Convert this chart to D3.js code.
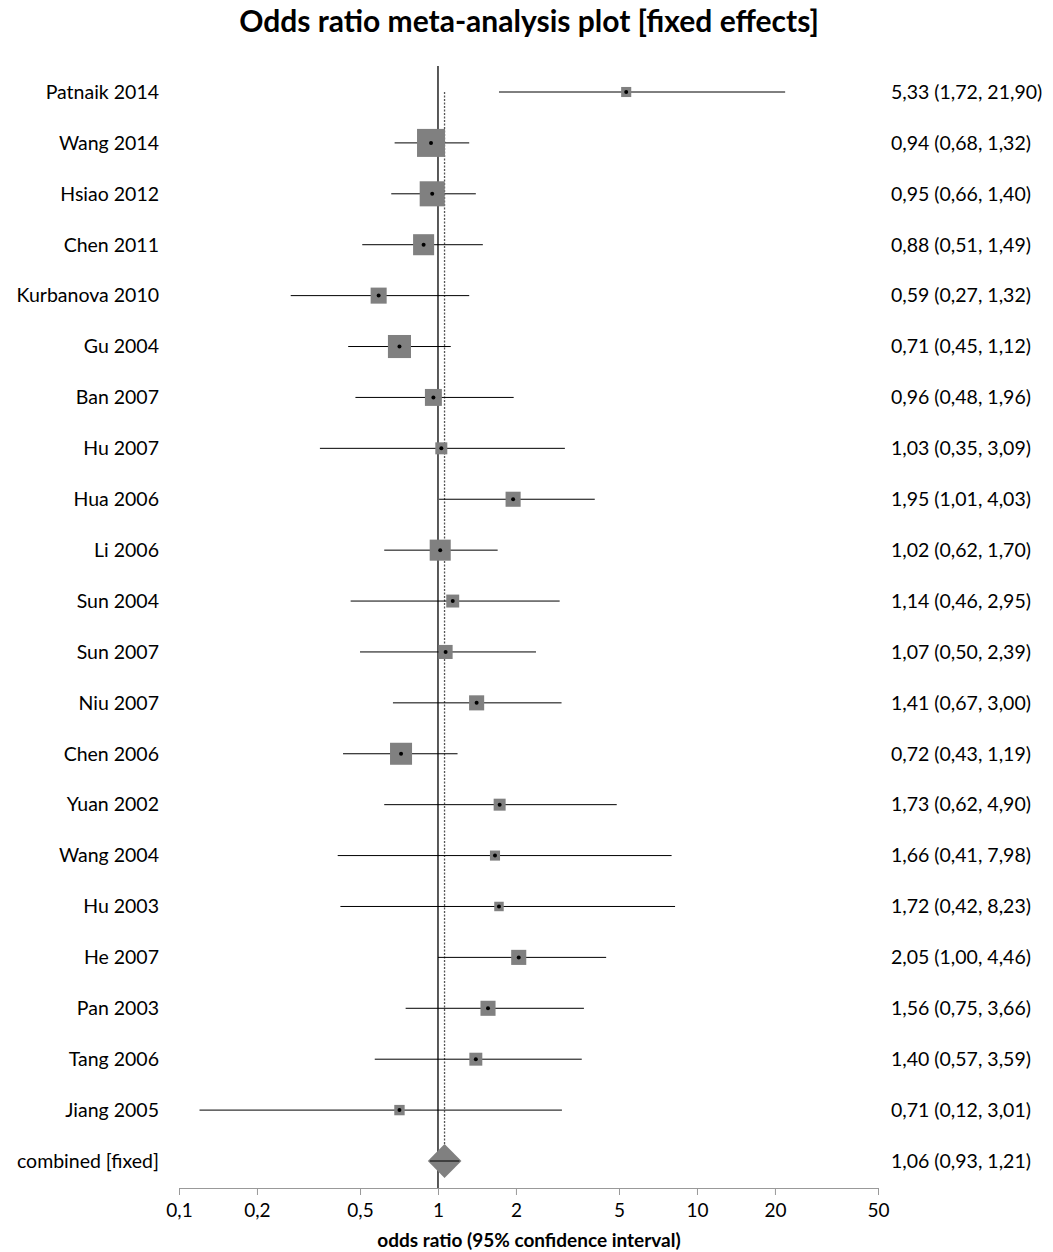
<!DOCTYPE html>
<html>
<head>
<meta charset="utf-8">
<script src="https://cdn.jsdelivr.net/npm/d3@7"></script>
<style>
  html, body { margin: 0; padding: 0; background: #fff; }
  svg { display: block; font-family: Lato, "Open Sans", sans-serif; }
</style>
</head>
<body>
<svg id="chart" width="1053" height="1252"></svg>
<script>
// Study data
const studies = ["Patnaik 2014", "Wang 2014", "Hsiao 2012", "Chen 2011", "Kurbanova 2010", "Gu 2004",
  "Ban 2007", "Hu 2007", "Hua 2006", "Li 2006", "Sun 2004", "Sun 2007", "Niu 2007", "Chen 2006",
  "Yuan 2002", "Wang 2004", "Hu 2003", "He 2007", "Pan 2003", "Tang 2006", "Jiang 2005"];
const oddsRatio = [5.33, 0.94, 0.95, 0.88, 0.59, 0.71, 0.96, 1.03, 1.95, 1.02, 1.14, 1.07, 1.41, 0.72,
  1.73, 1.66, 1.72, 2.05, 1.56, 1.40, 0.71];
const lower = [1.72, 0.68, 0.66, 0.51, 0.27, 0.45, 0.48, 0.35, 1.01, 0.62, 0.46, 0.50, 0.67, 0.43,
  0.62, 0.41, 0.42, 1.00, 0.75, 0.57, 0.12];
const upper = [21.90, 1.32, 1.40, 1.49, 1.32, 1.12, 1.96, 3.09, 4.03, 1.70, 2.95, 2.39, 3.00, 1.19,
  4.90, 7.98, 8.23, 4.46, 3.66, 3.59, 3.01];
// Relative study weights (%)
const weights = [1.7, 13.1, 10.5, 7.4, 4.3, 8.9, 4.8, 2.4, 3.8, 7.4, 2.8, 3.3, 3.8, 8.1,
  2.4, 1.7, 1.5, 3.8, 3.8, 2.8, 1.8];

// Pooled estimate
const pooledLabel = "combined [fixed]";
const pooled = [1.06, 0.93, 1.21];

const tickValues = [0.1, 0.2, 0.5, 1, 2, 5, 10, 20, 50];

const svg = d3.select("#chart");
const fmt = v => d3.format(".2f")(v).replace(".", ",");
const fmtTick = v => String(v).replace(".", ",");

const x = d3.scaleLog().domain([0.1, 50]).range([179, 878]);
const rows = studies.concat([pooledLabel]);
const y = d3.scalePoint().domain(rows).range([92, 1161]);
const side = d3.scaleSqrt().domain([0, 13.1]).range([0, 28]);

// Title
svg.append("text")
  .attr("x", 529).attr("y", 32)
  .attr("text-anchor", "middle")
  .attr("font-size", 30).attr("font-weight", 700)
  .text("Odds ratio meta-analysis plot [fixed effects]");

// Axis
const axisY = 1188;
const axis = svg.append("g").attr("transform", `translate(0,${axisY})`)
  .call(d3.axisBottom(x).tickValues(tickValues).tickFormat(fmtTick).tickSize(7).tickPadding(9));
axis.select(".domain").attr("stroke", "#999").attr("d", `M179,0.5H878`);
axis.selectAll(".tick line").attr("stroke", "#999");
axis.selectAll(".tick text").attr("font-size", 19).attr("fill", "#000")
  .attr("font-family", "Lato, 'Open Sans', sans-serif");

svg.append("text")
  .attr("x", 529).attr("y", 1247)
  .attr("text-anchor", "middle")
  .attr("font-size", 19).attr("font-weight", 700)
  .text("odds ratio (95% confidence interval)");

// Line of no effect
svg.append("line")
  .attr("x1", x(1)).attr("x2", x(1))
  .attr("y1", 66).attr("y2", axisY)
  .attr("stroke", "#000").attr("stroke-width", 1.3);

// Pooled estimate reference line
svg.append("line")
  .attr("x1", x(pooled[0])).attr("x2", x(pooled[0]))
  .attr("y1", y(studies[0])).attr("y2", y(pooledLabel) - 17)
  .attr("stroke", "#555").attr("stroke-width", 1.3)
  .attr("stroke-dasharray", "2,1.5");

// Study rows
const g = svg.append("g");
studies.forEach((name, i) => {
  const cy = y(name);
  g.append("line")
    .attr("x1", x(lower[i])).attr("x2", x(upper[i]))
    .attr("y1", cy).attr("y2", cy)
    .attr("stroke", "#000").attr("stroke-width", 1);
  const s = side(weights[i]);
  g.append("rect")
    .attr("x", x(oddsRatio[i]) - s / 2).attr("y", cy - s / 2)
    .attr("width", s).attr("height", s)
    .attr("fill", "#808080");
  g.append("circle")
    .attr("cx", x(oddsRatio[i])).attr("cy", cy).attr("r", 2)
    .attr("fill", "#000");
});

// Pooled diamond
const py = y(pooledLabel);
g.append("path")
  .attr("d", `M${x(pooled[1]) - 2},${py}L${x(pooled[0])},${py - 17}L${x(pooled[2]) + 2},${py}L${x(pooled[0])},${py + 17}Z`)
  .attr("fill", "#808080");
g.append("line")
  .attr("x1", x(pooled[1])).attr("x2", x(pooled[2]))
  .attr("y1", py).attr("y2", py)
  .attr("stroke", "#000").attr("stroke-width", 1);

// Row labels
svg.append("g").selectAll("text").data(rows).join("text")
  .attr("x", 159).attr("y", d => y(d))
  .attr("dy", "0.35em")
  .attr("text-anchor", "end")
  .attr("font-size", 19.5)
  .text(d => d);

// Estimate labels
const estimates = studies.map((d, i) => [oddsRatio[i], lower[i], upper[i]]).concat([pooled]);
svg.append("g").selectAll("text").data(estimates).join("text")
  .attr("x", 891).attr("y", (d, i) => y(rows[i]))
  .attr("dy", "0.35em")
  .attr("font-size", 19.5)
  .text(d => `${fmt(d[0])} (${fmt(d[1])}, ${fmt(d[2])})`);
</script>
</body>
</html>
